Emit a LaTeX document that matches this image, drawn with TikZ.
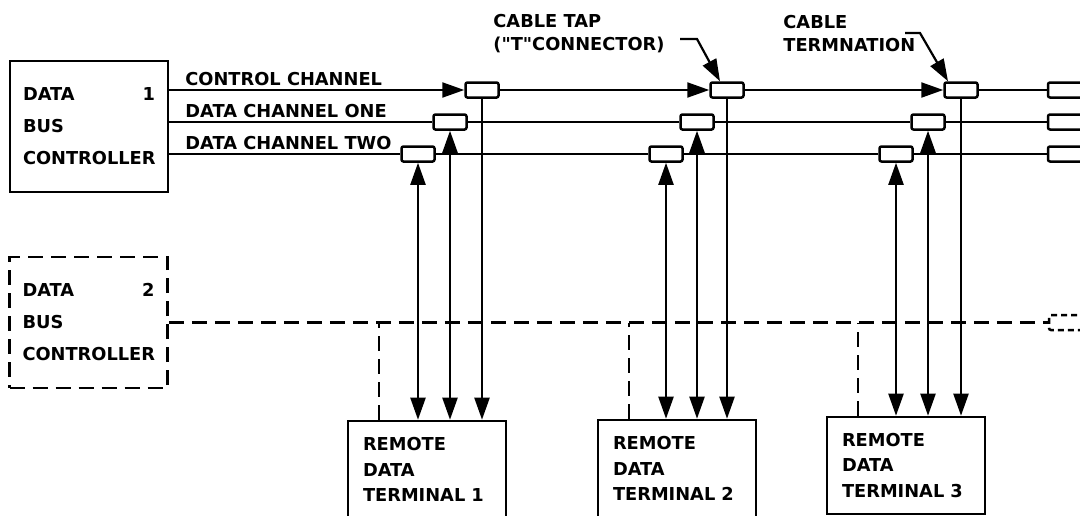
\documentclass[tikz,border=0pt]{standalone}
\usepackage{fontspec}
\setmainfont{DejaVu Sans}[Ligatures=TeXOff]
\usetikzlibrary{arrows.meta}

\tikzset{
  lettering/.style={font=\bfseries\fontsize{8.9}{16}\selectfont},
  unit/.style={draw, line width=1.3pt, lettering, align=left, text width=66pt, inner xsep=6.5pt, minimum height=65.5pt},
  terminal/.style={draw, line width=1.3pt, font=\bfseries\fontsize{8.9}{12.8}\selectfont, align=left, text width=64pt, inner xsep=7.5pt, minimum height=48.5pt},
  tap/.style={draw, fill=white, line width=1.25pt, rounded corners=1pt, minimum width=16.5pt, minimum height=7.5pt, inner sep=0pt},
  wire/.style={line width=1.1pt},
  oneway/.style={-{Triangle[length=11pt,width=7.5pt]}},
  twoway/.style={{Triangle[length=11pt,width=7.5pt]}-{Triangle[length=11pt,width=7.5pt]}},
  standby/.style={dash pattern=on 7.5pt off 4pt},
  caption/.style={font=\bfseries\fontsize{8.9}{11.75}\selectfont, align=left, inner sep=0pt}
}

\begin{document}
\begin{tikzpicture}[x=0.5pt, y=-0.5pt]
        \useasboundingbox (0,0) rectangle (1080,515);
        \clip (0,0) rectangle (1080,515);

        % bus controllers
        \node[unit] (bc1) at (89,126.5) {DATA\hskip0pt plus1fill 1\\BUS\\CONTROLLER};
        \node[unit, standby] (bc2) at (88.5,322.5) {DATA\hskip0pt plus1fill 2\\BUS\\CONTROLLER};

        % remote terminals
        \node[terminal] (rt1) at (427,469.5) {REMOTE\\DATA\\TERMINAL 1};
        \node[terminal] (rt2) at (677,468.5) {REMOTE\\DATA\\TERMINAL 2};
        \node[terminal] (rt3) at (906,465.5) {REMOTE\\DATA\\TERMINAL 3};

        % cable taps: c = control, a = data one, b = data two
        \node[tap] (tapc1) at (482,90) {};
        \node[tap] (tapa1) at (450,122) {};
        \node[tap] (tapb1) at (418,154) {};
        \node[tap] (tapc2) at (727,90) {};
        \node[tap] (tapa2) at (697,122) {};
        \node[tap] (tapb2) at (666,154) {};
        \node[tap] (tapc3) at (961,90) {};
        \node[tap] (tapa3) at (928,122) {};
        \node[tap] (tapb3) at (896,154) {};

        % cable terminations at the right edge
        \node[tap, minimum width=20pt] (endc) at (1068,90) {};
        \node[tap, minimum width=20pt] (enda) at (1068,122) {};
        \node[tap, minimum width=20pt] (endb) at (1068,154) {};
        \node[tap, dash pattern=on 3pt off 2pt, minimum width=20pt] (endd) at (1069,322.5) {};

        % channel names
        \node[caption, anchor=base west] (lblc) at (185,85.5) {CONTROL CHANNEL};
        \node[caption, anchor=base west] (lbla) at (185,117.5) {DATA CHANNEL ONE};
        \node[caption, anchor=base west] (lblb) at (185,149.5) {DATA CHANNEL TWO};

        % control channel
        \draw[wire, oneway] (bc1.east |- tapc1) -- (tapc1.west);
        \draw[wire, oneway] (tapc1.east) -- (tapc2.west);
        \draw[wire, oneway] (tapc2.east) -- (tapc3.west);
        \draw[wire] (tapc3.east) -- (endc.west);

        % data channel one
        \draw[wire] (bc1.east |- tapa1) -- (tapa1.west);
        \draw[wire] (tapa1.east) -- (tapa2.west);
        \draw[wire] (tapa2.east) -- (tapa3.west);
        \draw[wire] (tapa3.east) -- (enda.west);

        % data channel two
        \draw[wire] (bc1.east |- tapb1) -- (tapb1.west);
        \draw[wire] (tapb1.east) -- (tapb2.west);
        \draw[wire] (tapb2.east) -- (tapb3.west);
        \draw[wire] (tapb3.east) -- (endb.west);

        % stubs down to the terminals
        \draw[wire, twoway] (tapb1.south) -- (tapb1.south |- rt1.north);
        \draw[wire, twoway] (tapa1.south) -- (tapa1.south |- rt1.north);
        \draw[wire, oneway] (tapc1.south) -- (tapc1.south |- rt1.north);
        \draw[wire, twoway] (tapb2.south) -- (tapb2.south |- rt2.north);
        \draw[wire, twoway] (tapa2.south) -- (tapa2.south |- rt2.north);
        \draw[wire, oneway] (tapc2.south) -- (tapc2.south |- rt2.north);
        \draw[wire, twoway] (tapb3.south) -- (tapb3.south |- rt3.north);
        \draw[wire, twoway] (tapa3.south) -- (tapa3.south |- rt3.north);
        \draw[wire, oneway] (tapc3.south) -- (tapc3.south |- rt3.north);

        % standby controller bus
        \draw[wire, standby] (bc2.east) -- (endd.west);
        \draw[wire, standby] ([xshift=16pt]rt1.north west) -- ([xshift=16pt]rt1.north west |- bc2.east);
        \draw[wire, standby] ([xshift=16pt]rt2.north west) -- ([xshift=16pt]rt2.north west |- bc2.east);
        \draw[wire, standby] ([xshift=16pt]rt3.north west) -- ([xshift=16pt]rt3.north west |- bc2.east);

        % callouts
        \node[caption, anchor=north west] (taplbl) at (493,13.5) {CABLE TAP\\("T"CONNECTOR)};
        \node[caption, anchor=north west] (termlbl) at (783,14.5) {CABLE\\TERMNATION};
        \coordinate (taplead) at (680,39);
        \coordinate (termlead) at (905,33);
        \draw[wire, oneway] (taplead) -- ++(17,0) -- ([xshift=-3.5pt]tapc2.north);
        \draw[wire, oneway] (termlead) -- ++(15,0) -- ([xshift=-6.5pt]tapc3.north);
    \end{tikzpicture}
\end{document}
